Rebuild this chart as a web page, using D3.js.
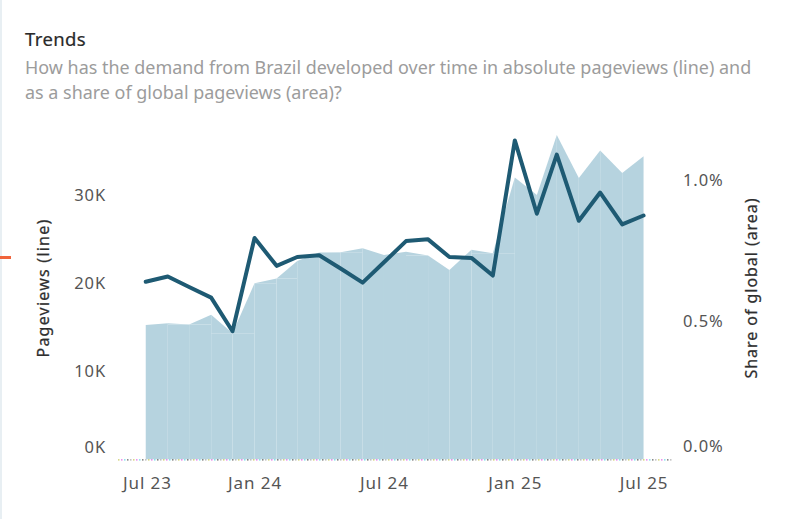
<!DOCTYPE html>
<html>
<head>
<meta charset="utf-8">
<script src="https://cdn.jsdelivr.net/npm/d3@7"></script>
<style>
  html, body { margin: 0; padding: 0; background: #fff; }
  svg { display: block; }
  text { font-family: "Noto Sans", "Open Sans", sans-serif; }
</style>
</head>
<body>
<svg id="chart" width="786" height="519"></svg>
<script>
// ---------------- DATA ----------------
const months = ["2023-08","2023-09","2023-10","2023-11","2023-12","2024-01","2024-02","2024-03",
  "2024-04","2024-05","2024-06","2024-07","2024-08","2024-09","2024-10","2024-11","2024-12",
  "2025-01","2025-02","2025-03","2025-04","2025-05","2025-06","2025-07"];
const pageviews = [20100, 20700, 19500, 18300, 14500, 25050, 21900, 22900, 23100, 21600, 20000, 22300,
  24700, 24900, 22900, 22800, 20800, 36100, 27800, 34500, 27000, 30200, 26600, 27600];
const sharePct = [0.486, 0.492, 0.488, 0.522, 0.457, 0.634, 0.651, 0.713, 0.743, 0.744, 0.758, 0.734,
  0.746, 0.732, 0.681, 0.753, 0.740, 1.009, 0.947, 1.160, 1.007, 1.105, 1.025, 1.084];
const leftTickValues = [0, 10000, 20000, 30000];
const leftTickLabels = ["0K", "10K", "20K", "30K"];
const rightTickValues = [0, 0.5, 1.0];
const rightTickLabels = ["0.0%", "0.5%", "1.0%"];
const xTickMonths = ["2023-07", "2024-01", "2024-07", "2025-01", "2025-07"];
const xTickLabels = ["Jul 23", "Jan 24", "Jul 24", "Jan 25", "Jul 25"];
const titleText = "Trends";
const subtitleLines = [
  "How has the demand from Brazil developed over time in absolute pageviews (line) and",
  "as a share of global pageviews (area)?"
];
const leftAxisTitle = "Pageviews (line)";
const rightAxisTitle = "Share of global (area)";

// ---------------- SETUP ----------------
const parse = d3.utcParse("%Y-%m");
const svg = d3.select("#chart");
const W = 786, H = 519;
const plotLeft = 118, plotRight = 672;

const x = d3.scaleUtc()
  .domain([new Date(Date.UTC(2023, 5, 23)), new Date(Date.UTC(2025, 7, 10))])
  .range([plotLeft, plotRight]);
const yL = d3.scaleLinear().domain([0, 30000]).range([459.3, 194.3]);
const yR = d3.scaleLinear().domain([0, 1.0]).range([462, 180]);
const baseY = yL(0);

const data = months.map((m, i) => ({ date: parse(m), pv: pageviews[i], share: sharePct[i] }));

// widen a text node via letter-spacing until it spans the target width
function fitSpacing(sel, target) {
  sel.each(function() {
    const n = this.textContent.length;
    const w = this.getComputedTextLength();
    d3.select(this).attr("letter-spacing", ((target - w) / n).toFixed(2));
  });
}

// left border / marker decorations
svg.append("rect").attr("x", 0).attr("y", 0).attr("width", 2).attr("height", H).attr("fill", "#e8eff3");
svg.append("rect").attr("x", 0).attr("y", 256).attr("width", 11).attr("height", 3).attr("fill", "#f0643c");

// ---------------- TITLES ----------------
const title = svg.append("text").attr("x", 25).attr("y", 46)
  .attr("font-size", 18.5).attr("font-weight", 400).attr("fill", "#2a2a2a")
  .attr("stroke", "#2a2a2a").attr("stroke-width", 0.2)
  .text(titleText);
fitSpacing(title, 61);

const subY = [74, 99];
const subs = subtitleLines.map((t, i) =>
  svg.append("text").attr("x", 25).attr("y", subY[i])
    .attr("font-size", 15.5).attr("fill", "#9c9c9c").text(t));
(function fit() {
  const w = subs[0].node().getComputedTextLength();
  const fs = 15.5 * 727 / w;
  subs.forEach(s => s.attr("font-size", fs));
})();

// ---------------- AREA (segments, Tableau-style seams) ----------------
const areaG = svg.append("g");
for (let i = 0; i < data.length - 1; i++) {
  const x1 = x(data[i].date), x2 = x(data[i + 1].date);
  const t1 = yR(data[i].share), t2 = yR(data[i + 1].share);
  const lower = Math.max(t1, t2);
  areaG.append("path")
    .attr("d", `M${x1},${baseY}L${x1},${lower}L${x2},${lower}L${x2},${baseY}Z`)
    .attr("fill", "#b6d3df");
  areaG.append("path")
    .attr("d", `M${x1},${lower}L${x1},${t1}L${x2},${t2}L${x2},${lower}Z`)
    .attr("fill", "#b6d3df");
}

// ---------------- BOTTOM DOTTED AXIS ----------------
const dotColors = ["#bbbb33", "#e040e0", "#40d0e0", "#333333", "#999999"];
dotColors.forEach((c, i) => {
  svg.append("line").attr("x1", plotLeft).attr("x2", plotRight)
    .attr("y1", baseY + 0.5).attr("y2", baseY + 0.5)
    .attr("stroke", c).attr("stroke-width", 1.2)
    .attr("stroke-dasharray", "1.5,13.5").attr("stroke-dashoffset", -i * 3)
    .attr("opacity", 0.75);
});

// ---------------- LINE ----------------
const line = d3.line().x(d => x(d.date)).y(d => yL(d.pv));
svg.append("path").datum(data)
  .attr("d", line)
  .attr("fill", "none")
  .attr("stroke", "#1e5a73")
  .attr("stroke-width", 4)
  .attr("stroke-linejoin", "round")
  .attr("stroke-linecap", "round");

// ---------------- AXES ----------------
const tickFont = 16.5, tickSpacing = 0.9;
const leftAxis = d3.axisLeft(yL).tickValues(leftTickValues)
  .tickFormat((d, i) => leftTickLabels[i]).tickSize(0).tickPadding(0);
const gL = svg.append("g").attr("transform", "translate(106,0)").call(leftAxis);
gL.select(".domain").remove();
gL.selectAll("text").attr("font-size", tickFont).attr("fill", "#555")
  .attr("letter-spacing", tickSpacing)
  .attr("font-family", "'Noto Sans', sans-serif")
  .attr("dy", d => d === 0 ? "-0.42em" : "0.35em");

const rightAxis = d3.axisRight(yR).tickValues(rightTickValues)
  .tickFormat((d, i) => rightTickLabels[i]).tickSize(0).tickPadding(0);
const gR = svg.append("g").attr("transform", "translate(683,0)").call(rightAxis);
gR.select(".domain").remove();
gR.selectAll("text").attr("font-size", tickFont).attr("fill", "#555")
  .attr("letter-spacing", tickSpacing)
  .attr("font-family", "'Noto Sans', sans-serif")
  .attr("dy", d => d === 0 ? "-0.62em" : "0.35em");

const xTickDates = xTickMonths.map(parse);
const bottomAxis = d3.axisBottom(x).tickValues(xTickDates)
  .tickFormat((d, i) => xTickLabels[i]).tickSize(0).tickPadding(0);
const gB = svg.append("g").attr("transform", "translate(0,477)").call(bottomAxis);
gB.select(".domain").remove();
gB.selectAll("text").attr("font-size", tickFont + 0.5).attr("fill", "#555")
  .attr("letter-spacing", tickSpacing)
  .attr("font-family", "'Noto Sans', sans-serif").attr("dy", "0.71em");
// keep edge labels inside the axis extent (Tableau behaviour)
gB.selectAll(".tick").each(function() {
  const t = d3.select(this).select("text");
  const bb = this.getBBox();
  const tx = +d3.select(this).attr("transform").match(/translate\(([-\d.]+)/)[1];
  const left = tx + bb.x;
  if (left < plotLeft + 3) t.attr("dx", plotLeft + 3 - left);
});

// axis titles
const tL = svg.append("text")
  .attr("transform", "translate(49,288) rotate(-90)")
  .attr("text-anchor", "middle").attr("font-size", 16).attr("font-weight", 400)
  .attr("fill", "#2e2e2e").attr("stroke", "#2e2e2e").attr("stroke-width", 0.25)
  .text(leftAxisTitle);
fitSpacing(tL, 139);
const tR = svg.append("text")
  .attr("transform", "translate(757,288) rotate(-90)")
  .attr("text-anchor", "middle").attr("font-size", 16).attr("font-weight", 400)
  .attr("fill", "#2e2e2e").attr("stroke", "#2e2e2e").attr("stroke-width", 0.25)
  .text(rightAxisTitle);
fitSpacing(tR, 181);
</script>
</body>
</html>
